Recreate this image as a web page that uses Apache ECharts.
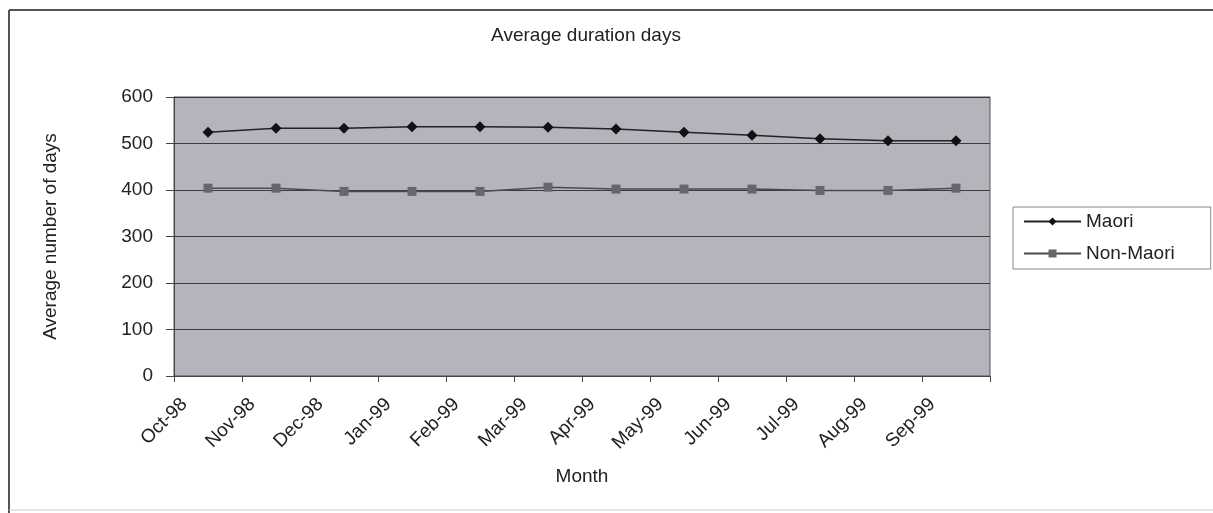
<!DOCTYPE html>
<html>
<head>
<meta charset="utf-8">
<script src="https://cdn.jsdelivr.net/npm/echarts@6/dist/echarts.min.js"></script>
<style>
html,body{margin:0;padding:0;background:#fff;}
#chart{width:1213px;height:513px;}
</style>
</head>
<body>
<div id="chart"></div>
<script>
// ---- data ----
var months = ['Oct-98','Nov-98','Dec-98','Jan-99','Feb-99','Mar-99','Apr-99','May-99','Jun-99','Jul-99','Aug-99','Sep-99'];
var maori = [524, 533, 533, 536, 536, 535, 531, 524, 518, 510, 506, 506];
var nonMaori = [404, 404, 397, 397, 397, 406, 402, 402, 402, 399, 399, 404];
var yTicks = [0, 100, 200, 300, 400, 500, 600];
var seriesNames = ['Maori', 'Non-Maori'];
var titleText = 'Average duration days';
var xName = 'Month';
var yName = 'Average number of days';

var FONT = "'Liberation Sans', Arial, sans-serif";
var chart = echarts.init(document.getElementById('chart'), null, {renderer: 'canvas'});

var option = {
  backgroundColor: '#ffffff',
  animation: false,
  title: {
    text: titleText,
    left: 581,
    textAlign: 'center',
    top: 21,
    textStyle: {fontFamily: FONT, fontSize: 19, fontWeight: 'normal', color: '#222'}
  },
  graphic: [
    {type: 'line', shape: {x1: 9, y1: 10, x2: 1213, y2: 10}, style: {stroke: '#555', lineWidth: 2}, silent: true},
    {type: 'line', shape: {x1: 9, y1: 10, x2: 9, y2: 513}, style: {stroke: '#555', lineWidth: 2}, silent: true},
    {type: 'line', shape: {x1: 9, y1: 510, x2: 1213, y2: 510}, style: {stroke: '#ccc', lineWidth: 1}, silent: true}
  ],
  legend: {
    orient: 'vertical',
    left: 1013,
    top: 207,
    padding: [5, 36, 6, 10],
    itemGap: 13,
    itemWidth: 57,
    itemHeight: 10,
    borderColor: '#888',
    borderWidth: 1,
    backgroundColor: '#fff',
    textStyle: {fontFamily: FONT, fontSize: 19, color: '#222'},
    data: seriesNames
  },
  grid: {
    left: 174, right: 223, top: 97, bottom: 137,
    show: true,
    backgroundColor: '#b4b4bc',
    borderColor: '#555',
    borderWidth: 1
  },
  xAxis: [
    {
      type: 'category',
      data: months,
      boundaryGap: true,
      position: 'bottom',
      axisLine: {show: true, lineStyle: {color: '#444', width: 1}},
      axisTick: {show: true, length: 6, lineStyle: {color: '#444'}},
      axisLabel: {show: false},
      splitLine: {show: false},
      name: xName,
      nameLocation: 'middle',
      nameGap: 91,
      nameTextStyle: {fontFamily: FONT, fontSize: 19, color: '#222'}
    },
    {
      type: 'category',
      data: months.concat(['']),
      boundaryGap: false,
      position: 'bottom',
      axisLine: {show: false},
      axisTick: {show: false},
      splitLine: {show: false},
      axisLabel: {
        show: true,
        interval: 0,
        rotate: 45,
        margin: 15,
        verticalAlign: 'top',
        padding: [5, 0, 0, 0],
        fontFamily: FONT,
        fontSize: 19,
        color: '#222'
      }
    }
  ],
  yAxis: {
    type: 'value',
    min: yTicks[0],
    max: yTicks[yTicks.length - 1],
    interval: 100,
    axisLine: {show: true, lineStyle: {color: '#444'}},
    axisTick: {show: true, length: 8, lineStyle: {color: '#444'}},
    axisLabel: {margin: 21, fontFamily: FONT, fontSize: 19, color: '#222'},
    splitLine: {show: true, lineStyle: {color: '#3a3a3a', width: 1}},
    name: yName,
    nameLocation: 'middle',
    nameGap: 114,
    nameRotate: 90,
    nameTextStyle: {fontFamily: FONT, fontSize: 19, color: '#222'}
  },
  series: [
    {
      name: seriesNames[0],
      type: 'line',
      xAxisIndex: 0,
      data: maori,
      symbol: 'diamond',
      symbolSize: 11,
      itemStyle: {color: '#111'},
      lineStyle: {color: '#222', width: 1.5}
    },
    {
      name: seriesNames[1],
      type: 'line',
      xAxisIndex: 0,
      data: nonMaori,
      symbol: 'rect',
      symbolSize: 9,
      itemStyle: {color: '#66666e'},
      lineStyle: {color: '#4a4a50', width: 1.5}
    }
  ]
};
chart.setOption(option);
</script>
</body>
</html>
